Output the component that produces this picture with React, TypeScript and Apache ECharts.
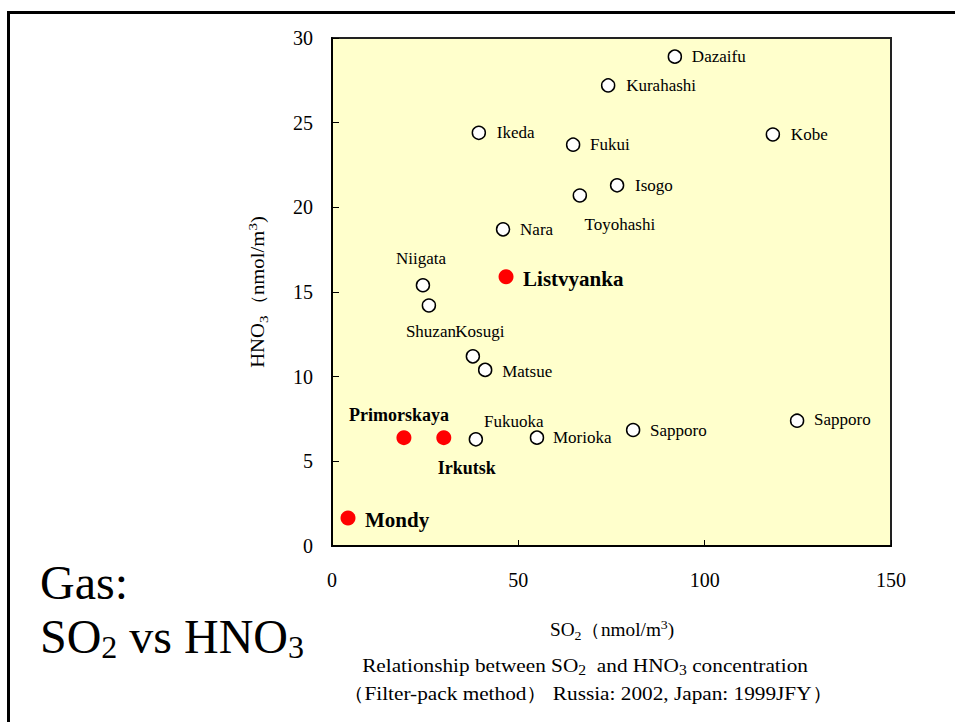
import React, { useEffect, useRef } from 'react';
import * as echarts from 'echarts';

// ---- data ----
const JP_NAMES = ['Dazaifu', 'Kurahashi', 'Ikeda', 'Fukui', 'Kobe', 'Isogo', 'Toyohashi', 'Nara', 'Niigata', 'Shuzan', 'Kosugi', 'Matsue', 'Fukuoka', 'Morioka', 'Sapporo', 'Sapporo'];
const JP_SO2 = [92.0, 74.1, 39.4, 64.7, 118.3, 76.5, 66.5, 45.9, 24.4, 26.0, 37.8, 41.1, 38.6, 55.0, 80.8, 124.8];
const JP_HNO3 = [28.9, 27.2, 24.4, 23.7, 24.3, 21.3, 20.7, 18.7, 15.4, 14.2, 11.2, 10.4, 6.3, 6.4, 6.85, 7.4];

const RU_NAMES = ['Listvyanka', 'Primorskaya', 'Irkutsk', 'Mondy'];
const RU_SO2 = [46.7, 19.3, 30.0, 4.3];
const RU_HNO3 = [15.9, 6.4, 6.4, 1.65];

const X_TICKS = [0, 50, 100, 150];
const Y_TICKS = [0, 5, 10, 15, 20, 25, 30];

// ---- label placement (offset from point centre, px) ----
const JP_LABEL_POS: [number, number, string][] = [
  [17, 0, 'left'], [18, 0, 'left'], [18, 0, 'left'], [17, 0, 'left'], [18, 0, 'left'], [18, 0, 'left'],
  [40, 29, 'center'], [17, 0, 'left'], [-2, -27, 'center'], [2, 26, 'center'], [7, -25, 'center'],
  [17, 2, 'left'], [38, -18, 'center'], [16, 0, 'left'], [17, 0, 'left'], [17, -1, 'left'],
];
const RU_LABEL_POS: [number, number, string][] = [
  [17, 2, 'left'], [-5, -23, 'center'], [23, 30, 'center'], [17, 2, 'left'],
];
const RU_LABEL_SIZE = [21, 18, 18, 21];

const FONT = 'Liberation Serif';

export default function App() {
  const ref = useRef<HTMLDivElement>(null);

  useEffect(() => {
    const chart = echarts.init(ref.current!, null, { renderer: 'svg' });

    const jpData = JP_NAMES.map((name, i) => ({
      name,
      value: [JP_SO2[i], JP_HNO3[i]],
      label: {
        position: 'inside',
        offset: [JP_LABEL_POS[i][0], JP_LABEL_POS[i][1]],
        align: JP_LABEL_POS[i][2],
      },
    }));
    const ruData = RU_NAMES.map((name, i) => ({
      name,
      value: [RU_SO2[i], RU_HNO3[i]],
      label: {
        position: 'inside',
        offset: [RU_LABEL_POS[i][0], RU_LABEL_POS[i][1]],
        align: RU_LABEL_POS[i][2],
        fontSize: RU_LABEL_SIZE[i],
      },
    }));

    const axisText = { fontFamily: FONT, color: '#000' };
    const labelBase = { show: true, formatter: '{b}', fontFamily: FONT, color: '#000', textBorderWidth: 0, textBorderColor: 'transparent' };

    const option: any = {
      animation: false,
      backgroundColor: '#fff',
      grid: {
        left: 332, top: 38, right: 64, bottom: 176,
        show: true, backgroundColor: '#FFFFCC', borderColor: '#222', borderWidth: 2,
      },
      xAxis: {
        type: 'value', min: X_TICKS[0], max: X_TICKS[X_TICKS.length - 1], interval: 50,
        axisLine: { show: true, onZero: false, lineStyle: { color: '#000', width: 2 } },
        axisTick: { show: true, inside: true, length: 6, lineStyle: { color: '#000', width: 1 } },
        axisLabel: { ...axisText, fontSize: 20, margin: 24 },
        splitLine: { show: false },
      },
      yAxis: {
        type: 'value', min: Y_TICKS[0], max: Y_TICKS[Y_TICKS.length - 1], interval: 5,
        axisLine: { show: true, onZero: false, lineStyle: { color: '#000', width: 2 } },
        axisTick: { show: true, inside: true, length: 7, lineStyle: { color: '#000', width: 1 } },
        axisLabel: { ...axisText, fontSize: 20, margin: 19 },
        splitLine: { show: false },
      },
      series: [
        {
          type: 'scatter', name: 'Japan', data: jpData, symbol: 'circle', symbolSize: 13,
          itemStyle: { color: '#fff', borderColor: '#000', borderWidth: 1.5, opacity: 1 },
          label: { ...labelBase, fontSize: 17 },
          emphasis: { disabled: true },
          z: 3,
        },
        {
          type: 'scatter', name: 'Russia', data: ruData, symbol: 'circle', symbolSize: 15,
          itemStyle: { color: '#FF0000', opacity: 1 },
          label: { ...labelBase, fontWeight: 'bold' },
          emphasis: { disabled: true },
          z: 4,
        },
      ],
      graphic: [
        {
          type: 'rect', silent: true, z: 100,
          shape: { x: 8.5, y: 12.5, width: 1200, height: 1200 },
          style: { fill: 'none', stroke: '#000', lineWidth: 3 },
        },
        {
          type: 'text', x: 40, y: 555,
          style: {
            text: '{n|Gas:}\n{n|SO}{s|2}{n| vs HNO}{s|3}',
            fill: '#000', align: 'left', verticalAlign: 'top',
            rich: {
              n: { fontFamily: FONT, fontSize: 48, lineHeight: 54, verticalAlign: 'middle', fill: '#000' },
              s: { fontFamily: FONT, fontSize: 32, lineHeight: 32, verticalAlign: 'bottom', fill: '#000' },
            },
          },
        },
        {
          type: 'text', x: 612, y: 630, scaleX: 1.07,
          style: {
            text: '{n|SO}{s|2}{n|（nmol/m}{p|3}{n|)}',
            align: 'center', verticalAlign: 'middle',
            rich: {
              n: { fontFamily: FONT, fontSize: 18, lineHeight: 24, verticalAlign: 'middle', fill: '#000' },
              s: { fontFamily: FONT, fontSize: 13, lineHeight: 13, verticalAlign: 'bottom', fill: '#000' },
              p: { fontFamily: FONT, fontSize: 13, lineHeight: 13, verticalAlign: 'top', fill: '#000' },
            },
          },
        },
        {
          type: 'text', x: 258, y: 292, rotation: Math.PI / 2, scaleX: 1.15,
          style: {
            text: '{n|HNO}{s|3}{n|（nmol/m}{p|3}{n|)}',
            align: 'center', verticalAlign: 'middle',
            rich: {
              n: { fontFamily: FONT, fontSize: 18, lineHeight: 24, verticalAlign: 'middle', fill: '#000' },
              s: { fontFamily: FONT, fontSize: 13, lineHeight: 13, verticalAlign: 'bottom', fill: '#000' },
              p: { fontFamily: FONT, fontSize: 13, lineHeight: 13, verticalAlign: 'top', fill: '#000' },
            },
          },
        },
        {
          type: 'text', x: 585, y: 665, scaleX: 1.12,
          style: {
            text: '{n|Relationship between SO}{s|2}{n|  and HNO}{s|3}{n| concentration}',
            align: 'center', verticalAlign: 'middle',
            rich: {
              n: { fontFamily: FONT, fontSize: 19, lineHeight: 24, verticalAlign: 'middle', fill: '#000' },
              s: { fontFamily: FONT, fontSize: 14, lineHeight: 14, verticalAlign: 'bottom', fill: '#000' },
            },
          },
        },
        {
          type: 'text', x: 588, y: 693, scaleX: 1.12,
          style: {
            text: '（Filter-pack method） Russia: 2002, Japan: 1999JFY）',
            align: 'center', verticalAlign: 'middle',
            fontFamily: FONT, fontSize: 19, fill: '#000',
          },
        },
      ],
    };

    chart.setOption(option);
    return () => chart.dispose();
  }, []);

  return <div ref={ref} style={{ position: 'absolute', left: 0, top: 0, width: 955, height: 722 }} />;
}
